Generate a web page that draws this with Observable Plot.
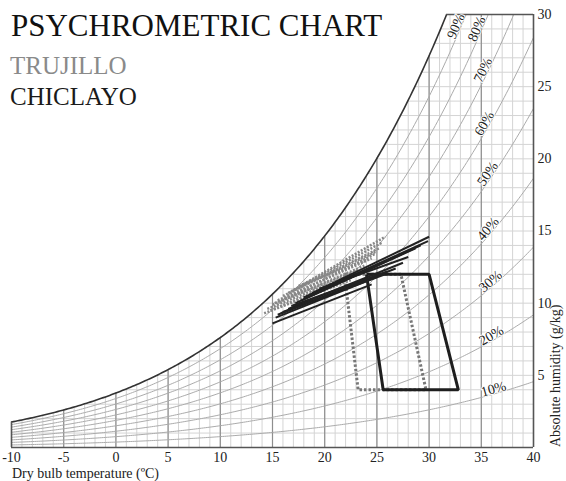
<!DOCTYPE html>
<html><head><meta charset="utf-8">
<script src="https://cdn.jsdelivr.net/npm/d3@7"></script>
<script src="https://cdn.jsdelivr.net/npm/@observablehq/plot@0.6"></script>
<style>
body{margin:0;background:#fff;}
#wrap{position:relative;width:566px;height:481px;font-family:"Liberation Serif","Times New Roman",serif;overflow:hidden;}
#chart{position:absolute;left:0;top:0;}
.ov{position:absolute;white-space:nowrap;line-height:1;font-family:"Liberation Serif","Times New Roman",serif;}
</style></head><body>
<div id="wrap">
<div id="chart"></div>
<div class="ov" style="left:11px;top:10px;font-size:31px;color:#111">PSYCHROMETRIC CHART</div>
<div class="ov" style="left:10px;top:53px;font-size:25px;color:#8a8a8a">TRUJILLO</div>
<div class="ov" style="left:10px;top:84px;font-size:25px;color:#1a1a1a">CHICLAYO</div>
<div class="ov" style="left:12px;top:467px;font-size:14px;color:#222">Dry bulb temperature (ºC)</div>
<div class="ov" style="left:549px;top:447px;font-size:14px;color:#222;transform-origin:0 0;transform:rotate(-90deg)">Absolute humidity (g/kg)</div>
</div>
<script>
// ---- data ----
const xTicks = [-10, -5, 0, 5, 10, 15, 20, 25, 30, 35, 40];
const yTicks = [5, 10, 15, 20, 25, 30];
const rhLevels = [10, 20, 30, 40, 50, 60, 70, 80, 90];
const rhLabelT = [36.3, 36.2, 36.2, 36.0, 36.0, 35.7, 35.6, 35.0, 33.0];

// monthly lines (start temp / abs. humidity, end temp / abs. humidity)
const trujilloT1 = [14.2, 14.5, 15.0, 15.5, 16.0, 16.5, 17.0, 16.2, 15.2, 14.8, 17.5, 16.8];
const trujilloW1 = [9.3, 9.6, 9.9, 10.2, 10.5, 10.7, 10.9, 10.3, 10.0, 9.5, 11.2, 10.8];
const trujilloT2 = [22.5, 23.0, 23.8, 24.5, 25.2, 25.8, 25.5, 24.8, 23.3, 22.8, 24.0, 25.0];
const trujilloW2 = [11.6, 12.1, 12.6, 13.1, 13.8, 14.6, 14.2, 13.4, 12.3, 11.9, 13.0, 13.6];

const chiclayoT1 = [15.0, 15.3, 15.8, 16.5, 17.2, 18.0, 18.8, 17.8, 16.0, 15.5, 19.5, 16.8];
const chiclayoW1 = [8.6, 9.0, 9.3, 9.6, 10.0, 10.4, 10.7, 10.2, 9.4, 9.2, 11.0, 9.8];
const chiclayoT2 = [24.5, 25.0, 26.8, 27.5, 28.7, 29.9, 30.0, 29.2, 25.8, 24.0, 28.0, 26.0];
const chiclayoW2 = [11.3, 11.8, 12.4, 12.8, 13.8, 14.3, 14.6, 14.0, 12.0, 11.6, 13.2, 12.2];

// comfort zones
const chiclayoZoneT = [24.0, 30.0, 32.8, 25.6, 24.0];
const chiclayoZoneW = [12.0, 12.0, 4.0, 4.0, 12.0];
const trujilloZoneT = [21.9, 27.3, 29.7, 23.2, 21.9];
const trujilloZoneW = [12.0, 12.0, 4.0, 4.0, 12.0];

// ---- psychrometrics ----
const P = 101.325;
const ps = T => 0.61094 * Math.exp(17.625 * T / (T + 243.04));
const rhW = (phi, T) => { const p = phi / 100 * ps(T); return 622 * p / (P - p); };
const ws = T => rhW(100, T);

const W = 566, H = 481, mL = 11, mR = 33, mT = 14, mB = 34;
const kx = (W - mL - mR) / 50, ky = (H - mT - mB) / 30;

const Ts = d3.range(-10, 40.001, 0.2);
const curves = [];
for (const r of rhLevels) for (const T of Ts) curves.push({rh: r, T, w: rhW(r, T)});
const sat = Ts.map(T => ({T, w: ws(T)})).filter(d => d.w <= 30.6);

let lo = 20, hi = 40;
for (let i = 0; i < 60; i++) { const m = (lo + hi) / 2; if (ws(m) < 30) lo = m; else hi = m; }
const t30 = (lo + hi) / 2;

const labels = rhLevels.map((r, i) => {
  const T = rhLabelT[i], h = 0.01;
  const s = (rhW(r, T + h) - rhW(r, T - h)) / (2 * h) * ky / kx;
  const th = Math.atan(s), off = 5;
  return {text: r + "%", x: T - off * Math.sin(th) / kx, y: rhW(r, T) + off * Math.cos(th) / ky, rotate: -th * 180 / Math.PI};
});

const minorT = d3.range(-10, 41, 1);
const minorW = d3.range(1, 30, 1);
const majorT = [-5, 0, 5, 10, 15, 20, 25, 30, 35];
const idx = d3.range(12);
const zoneC = chiclayoZoneT.map((t, i) => ({T: t, w: chiclayoZoneW[i]}));
const zoneT = trujilloZoneT.map((t, i) => ({T: t, w: trujilloZoneW[i]}));

const chart = Plot.plot({
  width: W, height: H,
  marginLeft: mL, marginRight: mR, marginTop: mT, marginBottom: mB,
  x: {domain: [-10, 40]},
  y: {domain: [0, 30]},
  style: {fontFamily: "Liberation Serif, Times New Roman, serif", fontSize: "14px", color: "#222", background: "white"},
  marks: [
    Plot.ruleX(minorT, {y1: 0, y2: 30, stroke: "#d4d4d4", strokeWidth: 1}),
    Plot.ruleY(minorW, {x1: -10, x2: 40, stroke: "#d4d4d4", strokeWidth: 1}),
    Plot.ruleX(majorT, {y1: 0, y2: 30, stroke: "#8e8e8e", strokeWidth: 1.2}),
    Plot.areaY(Ts, {x: d => d, y1: d => Math.min(ws(d), 30), y2: 30, fill: "white"}),
    Plot.line(curves, {x: "T", y: "w", z: "rh", stroke: "#ababab", strokeWidth: 1, clip: true}),
    Plot.line(sat, {x: "T", y: "w", stroke: "#333", strokeWidth: 1.6, clip: true}),
    Plot.ruleY([0], {x1: -10, x2: 40, stroke: "#555", strokeWidth: 1.6}),
    Plot.ruleY([30], {x1: t30, x2: 40, stroke: "#555", strokeWidth: 1.6}),
    Plot.ruleX([40], {y1: 0, y2: 30, stroke: "#555", strokeWidth: 1.6}),
    Plot.ruleX([-10], {y1: 0, y2: ws(-10), stroke: "#555", strokeWidth: 1.6}),
    Plot.text(labels, {x: "x", y: "y", text: "text", rotate: "rotate", fontSize: 14, fill: "#222", stroke: "white", strokeWidth: 2, textAnchor: "middle", lineAnchor: "middle"}),
    Plot.line(zoneT, {x: "T", y: "w", stroke: "#777", strokeWidth: 3, strokeDasharray: "2.5,2", strokeLinecap: "butt", strokeLinejoin: "miter"}),
    Plot.line(zoneC, {x: "T", y: "w", stroke: "#1e1e1e", strokeWidth: 3, strokeLinecap: "butt", strokeLinejoin: "miter"}),
    Plot.link(idx, {x1: i => trujilloT1[i], y1: i => trujilloW1[i], x2: i => trujilloT2[i], y2: i => trujilloW2[i], stroke: "#888", strokeWidth: 2.5, strokeDasharray: "2,1.5", strokeLinecap: "butt"}),
    Plot.link(idx, {x1: i => chiclayoT1[i], y1: i => chiclayoW1[i], x2: i => chiclayoT2[i], y2: i => chiclayoW2[i], stroke: "#222", strokeWidth: 2}),
    Plot.axisX({ticks: xTicks, tickSize: 0, tickPadding: 5, label: null, fontSize: 14, tickFormat: d => String(d)}),
    Plot.axisY({anchor: "right", ticks: yTicks, tickSize: 0, tickPadding: 4, label: null, fontSize: 14, tickFormat: d => String(d)})
  ]
});
document.getElementById("chart").appendChild(chart);
</script>
</body></html>
